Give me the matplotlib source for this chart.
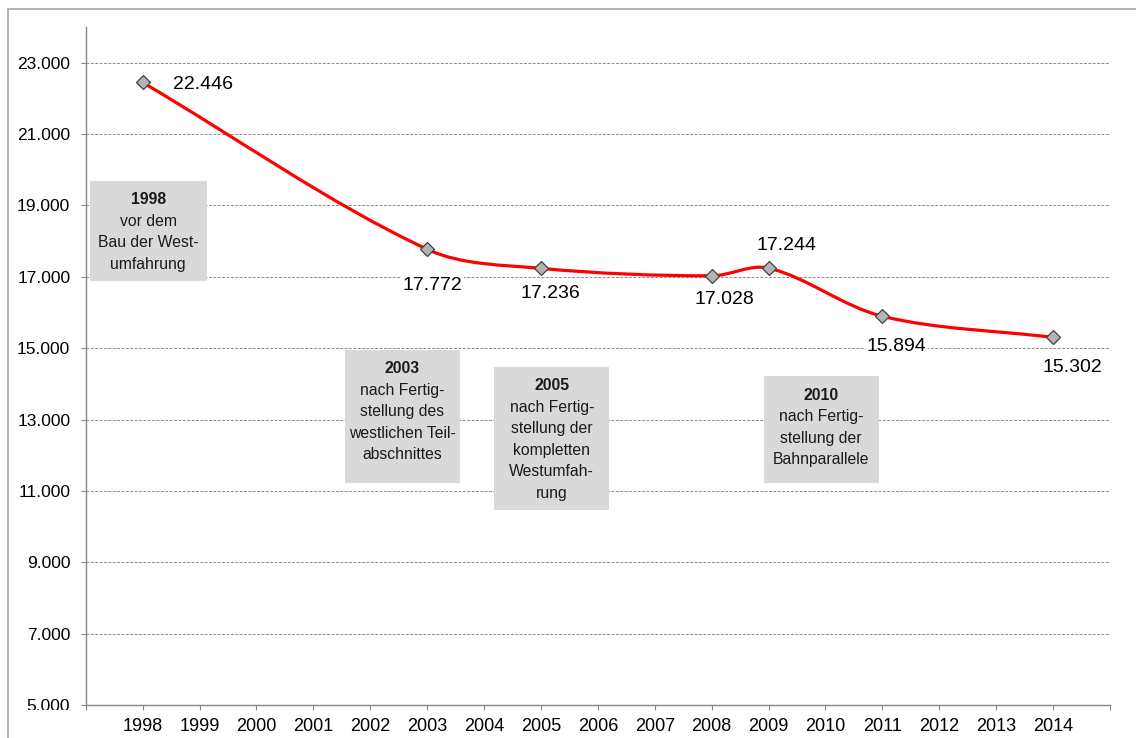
import numpy as np
import matplotlib
matplotlib.use("Agg")
import matplotlib.pyplot as plt
from matplotlib.path import Path
from matplotlib.patches import PathPatch, Rectangle

# data
years = ['1998', '1999', '2000', '2001', '2002', '2003', '2004', '2005', '2006',
         '2007', '2008', '2009', '2010', '2011', '2012', '2013', '2014']
count_years = ['1998', '2003', '2005', '2008', '2009', '2011', '2014']
counts = [22446, 17772, 17236, 17028, 17244, 15894, 15302]
count_labels = ['22.446', '17.772', '17.236', '17.028', '17.244', '15.894', '15.302']

# label offsets in points (dx, dy, ha)
label_offsets = [(21.6, -1.5, 'left'), (3.6, -26, 'center'), (6.5, -18, 'center'),
                 (9.4, -17, 'center'), (13, 16.5, 'center'), (10, -22, 'center'),
                 (13.7, -21.6, 'center')]

# annotation boxes: (x0, x1, y0, y1) in axes fraction, lines
boxes = [
    ((0.004, 0.118, 0.625, 0.773), ['1998', 'vor dem', 'Bau der West-', 'umfahrung']),
    ((0.253, 0.365, 0.327, 0.524), ['2003', 'nach Fertig-', 'stellung des', 'westlichen Teil-', 'abschnittes']),
    ((0.399, 0.511, 0.288, 0.499), ['2005', 'nach Fertig-', 'stellung der', 'kompletten', 'Westumfah-', 'rung']),
    ((0.662, 0.774, 0.327, 0.485), ['2010', 'nach Fertig-', 'stellung der', 'Bahnparallele']),
]

plt.rcParams['font.family'] = ['Liberation Sans', 'DejaVu Sans']

fig = plt.figure(figsize=(11.36, 7.38), dpi=100)
ax = fig.add_axes([85.7 / 1136, 33 / 738, (1110 - 85.7) / 1136, (705 - 27) / 738])
ax.set_xlim(-1, 17)
ax.set_ylim(5000, 24000)

# outer chart border
fig.patches.append(Rectangle((8 / 1136, -0.1), 1.2, 1.1 - 9 / 738, transform=fig.transFigure,
                             fill=False, edgecolor='#a6a6a6', lw=1.2))

xs = np.array([years.index(y) for y in count_years], dtype=float)
ys = np.array(counts, dtype=float)

# smoothed line, bezier in screen space with chord-weighted tangents
pts = ax.transData.transform(np.column_stack([xs, ys]))
n = len(pts)
tang = np.zeros_like(pts)
for i in range(n):
    prev = pts[max(i - 1, 0)]
    nxt = pts[min(i + 1, n - 1)]
    tang[i] = nxt - prev
verts = [pts[0]]
codes = [Path.MOVETO]
for i in range(n - 1):
    p1, p2 = pts[i], pts[i + 1]
    d = np.hypot(*(p2 - p1))
    def arm(j):
        dp = np.hypot(*(pts[j] - pts[max(j - 1, 0)]))
        dn = np.hypot(*(pts[min(j + 1, n - 1)] - pts[j]))
        return dp, dn
    dp1, dn1 = arm(i)
    dp2, dn2 = arm(i + 1)
    c1 = p1 + tang[i] * dn1 / (dp1 + dn1) / 3.0
    c2 = p2 - tang[i + 1] * dp2 / (dp2 + dn2) / 3.0
    verts += [c1, c2, p2]
    codes += [Path.CURVE4] * 3
verts = ax.transData.inverted().transform(np.array(verts))
ax.add_patch(PathPatch(Path(verts, codes), fill=False, edgecolor='#ff0000', lw=2.3, zorder=3))

ax.plot(xs, ys, linestyle='none', marker='D', markersize=7.5, markerfacecolor='#b4b4b4',
        markeredgecolor='#404040', markeredgewidth=0.9, zorder=4)

for x, y, lab, (dx, dy, ha) in zip(xs, ys, count_labels, label_offsets):
    ax.annotate(lab, (x, y), xytext=(dx, dy), textcoords='offset points', ha=ha, va='center',
                fontsize=14, color='black', zorder=5,
                bbox=dict(boxstyle='square,pad=0.1', fc='white', ec='none'))

for (x0, x1, y0, y1), lines in boxes:
    ax.add_patch(Rectangle((x0, y0), x1 - x0, y1 - y0, transform=ax.transAxes,
                           facecolor='#d9d9d9', edgecolor='none', zorder=2))
    cx = (x0 + x1) / 2
    for i, line in enumerate(lines):
        ax.annotate(line, (cx, y1), xycoords='axes fraction',
                    xytext=(0, -(19 + 21.5 * i) * 0.72), textcoords='offset points',
                    ha='center', va='center', fontsize=11.3,
                    fontweight='bold' if i == 0 else 'normal', color='#1a1a1a', zorder=3)

ax.set_xticks(range(-1, 18))
ax.set_xticklabels([''] + years + [''])
ax.set_yticks(range(5000, 24000, 2000))
ax.set_yticklabels(['{:,}'.format(v).replace(',', '.') for v in range(5000, 24000, 2000)])
ax.grid(axis='y', color='#8c8c8c', linestyle=(0, (3, 1.5)), lw=0.7)
ax.set_axisbelow(True)

for s in ['top', 'right']:
    ax.spines[s].set_visible(False)
for s in ['left', 'bottom']:
    ax.spines[s].set_color('#868686')
    ax.spines[s].set_linewidth(1)
ax.tick_params(axis='both', direction='out', length=3.6, color='#868686')
ax.tick_params(axis='y', pad=7.5, labelsize=12.5)
ax.tick_params(axis='x', pad=6, labelsize=13)

# the lowest axis label is cut off in the original
fig.add_artist(Rectangle((12 / 1136, 0), 66 / 1136, 28 / 738, transform=fig.transFigure,
                         facecolor='white', edgecolor='none', zorder=10))

fig.savefig('out.png', dpi=100)
